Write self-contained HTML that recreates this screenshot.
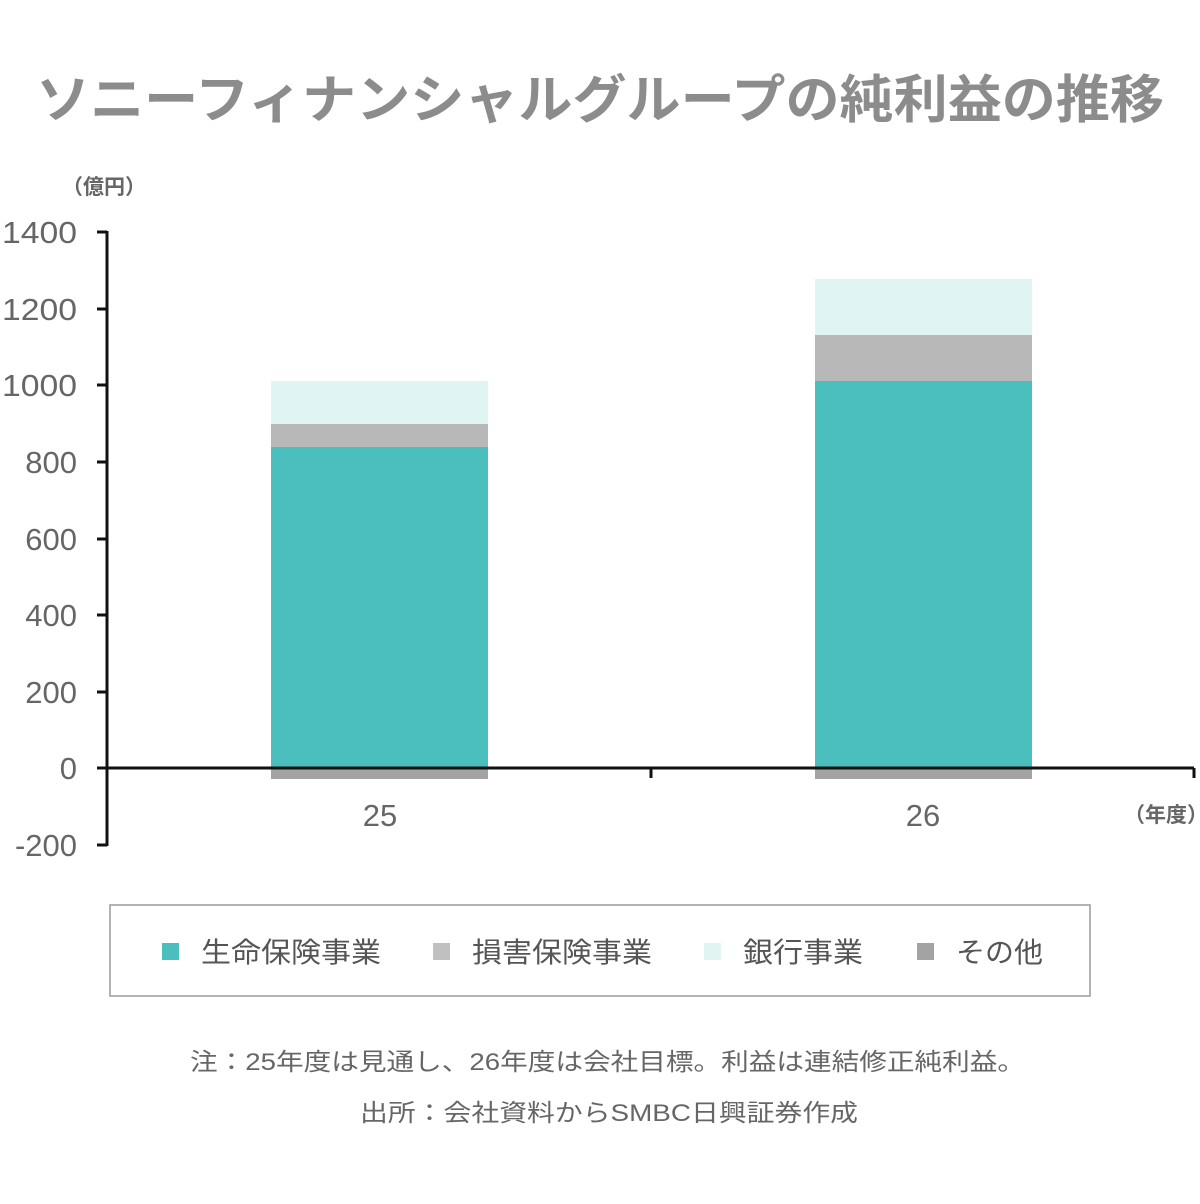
<!DOCTYPE html>
<html><head><meta charset="utf-8"><style>
html,body{margin:0;padding:0;background:#fff;}
svg{display:block;}
text{font-family:"Liberation Sans","Noto Sans CJK JP",sans-serif;}
</style></head><body>
<svg width="1200" height="1204" viewBox="0 0 1200 1204" xmlns="http://www.w3.org/2000/svg">
<text x="36" y="118" font-size="52" font-weight="bold" fill="#8c8c8c" textLength="1128" lengthAdjust="spacingAndGlyphs">ソニーフィナンシャルグループの純利益の推移</text>
<text x="104" y="194" text-anchor="middle" font-size="21" font-weight="bold" fill="#666">（億円）</text>
<g font-size="31" fill="#666" text-anchor="end">
<text x="77" y="243" textLength="75" lengthAdjust="spacingAndGlyphs">1400</text>
<text x="77" y="320" textLength="75" lengthAdjust="spacingAndGlyphs">1200</text>
<text x="77" y="396" textLength="75" lengthAdjust="spacingAndGlyphs">1000</text>
<text x="77" y="473">800</text>
<text x="77" y="550">600</text>
<text x="77" y="626">400</text>
<text x="77" y="703">200</text>
<text x="77" y="779">0</text>
<text x="77" y="856">-200</text>
</g>
<rect x="271" y="381" width="217" height="43" fill="#e1f4f4"/>
<rect x="271" y="424" width="217" height="23" fill="#b8b8b8"/>
<rect x="271" y="447" width="217" height="321" fill="#4bbfbe"/>
<rect x="271" y="768" width="217" height="11" fill="#a3a3a3"/>
<rect x="815" y="279" width="217" height="56" fill="#e1f4f4"/>
<rect x="815" y="335" width="217" height="46" fill="#b8b8b8"/>
<rect x="815" y="381" width="217" height="387" fill="#4bbfbe"/>
<rect x="815" y="768" width="217" height="11" fill="#a3a3a3"/>
<g stroke="#111" stroke-width="3" fill="none">
<line x1="107" y1="231" x2="107" y2="846"/>
<line x1="97" y1="232" x2="107" y2="232"/>
<line x1="97" y1="309" x2="107" y2="309"/>
<line x1="97" y1="385" x2="107" y2="385"/>
<line x1="97" y1="462" x2="107" y2="462"/>
<line x1="97" y1="539" x2="107" y2="539"/>
<line x1="97" y1="615" x2="107" y2="615"/>
<line x1="97" y1="692" x2="107" y2="692"/>
<line x1="97" y1="845" x2="107" y2="845"/>
<line x1="97" y1="768" x2="1194" y2="768"/>
<line x1="651" y1="768" x2="651" y2="778"/>
<line x1="1194" y1="768" x2="1194" y2="778"/>
</g>
<text x="380" y="826" text-anchor="middle" font-size="31" fill="#666">25</text>
<text x="923" y="826" text-anchor="middle" font-size="31" fill="#666">26</text>
<text x="1166" y="822" text-anchor="middle" font-size="21" font-weight="bold" fill="#666">（年度）</text>
<rect x="110" y="905" width="980" height="91" fill="#fff" stroke="#999" stroke-width="1.5"/>
<rect x="162" y="943" width="17" height="17" fill="#4bbfbe"/>
<text x="201" y="962" font-size="28" fill="#555" textLength="180" lengthAdjust="spacingAndGlyphs">生命保険事業</text>
<rect x="433" y="943" width="17" height="17" fill="#c0c0c0"/>
<text x="472" y="962" font-size="28" fill="#555" textLength="180" lengthAdjust="spacingAndGlyphs">損害保険事業</text>
<rect x="704" y="943" width="17" height="17" fill="#e1f4f4"/>
<text x="743" y="962" font-size="28" fill="#555" textLength="120" lengthAdjust="spacingAndGlyphs">銀行事業</text>
<rect x="917" y="943" width="17" height="17" fill="#a3a3a3"/>
<text x="956" y="962" font-size="28" fill="#555" textLength="87" lengthAdjust="spacingAndGlyphs">その他</text>
<text x="190" y="1070" font-size="24" fill="#666" textLength="835" lengthAdjust="spacingAndGlyphs">注：25年度は見通し、26年度は会社目標。利益は連結修正純利益。</text>
<text x="360" y="1121" font-size="24" fill="#666" textLength="498" lengthAdjust="spacingAndGlyphs">出所：会社資料からSMBC日興証券作成</text>
</svg>
</body></html>
